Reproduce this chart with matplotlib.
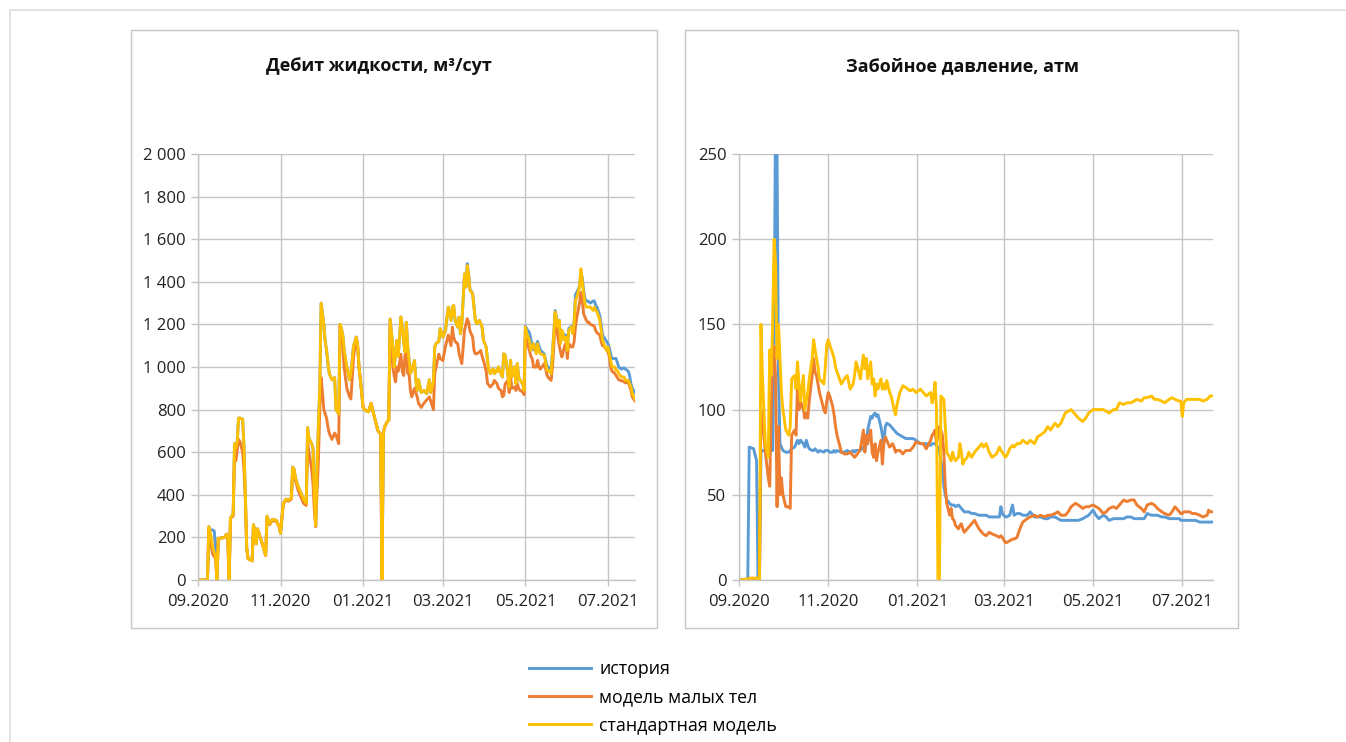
import matplotlib
matplotlib.use("Agg")
import matplotlib.pyplot as plt
import matplotlib.dates as mdates
from matplotlib.lines import Line2D
from matplotlib.patches import Rectangle
from matplotlib.ticker import FuncFormatter
import pandas as pd

plt.rcParams['font.family'] = ['Open Sans', 'DejaVu Sans']

START = "2020-09-01"

# ---------------- Liquid rate (m3/day) ----------------
liq_days = [0, 7, 8, 9, 10, 11, 12, 13, 14, 15, 20, 21, 22, 23, 24, 26, 27, 28, 29, 30,
            31, 33, 34, 35, 36, 37, 40, 41, 42, 43, 44, 46, 48, 50, 51, 53, 55, 58, 60, 61,
            63, 65, 67, 69, 70, 71, 72, 74, 76, 78, 80, 81, 82, 84, 85, 86, 87, 88, 89, 90,
            91, 92, 93, 94, 95, 96, 97, 99, 101, 102, 104, 105, 106, 107, 108, 110, 112, 113, 115, 117,
            118, 119, 121, 122, 124, 126, 128, 129, 131, 133, 135, 136, 137, 138, 140, 141, 142, 143, 144, 145,
            146, 147, 148, 150, 151, 152, 153, 154, 155, 156, 157, 158, 160, 161, 162, 163, 165, 167, 169, 171,
            172, 174, 175, 176, 178, 179, 181, 183, 184, 185, 187, 188, 189, 190, 192, 193, 194, 195, 197, 198,
            199, 200, 201, 203, 204, 205, 206, 208, 209, 210, 211, 213, 214, 215, 216, 218, 219, 220, 221, 222,
            224, 225, 226, 227, 229, 230, 231, 232, 234, 235, 236, 237, 238, 240, 241, 242, 243, 245, 246, 247,
            248, 250, 251, 252, 253, 256, 257, 258, 259, 261, 262, 263, 264, 266, 267, 268, 269, 271, 272, 273,
            274, 276, 277, 278, 279, 280, 282, 283, 284, 285, 286, 287, 288, 289, 290, 292, 293, 294, 295, 297,
            298, 299, 300, 302, 303, 304, 305, 306, 308, 309, 310, 311, 313, 314, 315, 316, 318, 319, 320, 321,
            323]
liq_history = [0, 0, 250, 235, 235, 235, 230, 150, 0, 195, 200, 215, 200, 0, 290, 310, 640, 620, 650, 760,
               760, 755, 620, 400, 150, 100, 90, 260, 230, 170, 240, 200, 160, 115, 300, 265, 285, 280, 250, 220,
               360, 380, 375, 385, 530, 520, 480, 440, 410, 380, 360, 715, 665, 640, 620, 400, 255, 550, 720, 900,
               1300, 1250, 1200, 1120, 1080, 1020, 970, 940, 950, 800, 780, 1200, 1180, 1150, 1080, 1000, 940, 970, 1100, 1140,
               1100, 1000, 880, 810, 795, 790, 830, 800, 750, 700, 685, 0, 690, 720, 745, 750, 1225, 1160, 1095, 1000,
               1060, 1125, 1050, 1235, 1190, 1120, 1070, 1210, 1095, 1030, 970, 985, 1030, 940, 890, 940, 880, 890, 875, 940,
               880, 930, 1095, 1110, 1120, 1180, 1140, 1172, 1234, 1281, 1219, 1281, 1289, 1219, 1187, 1234, 1156, 1203, 1437, 1375,
               1485, 1437, 1365, 1344, 1281, 1219, 1203, 1219, 1203, 1187, 1125, 1094, 1031, 984, 969, 992, 969, 984, 977, 1000,
               969, 953, 1062, 1055, 969, 906, 1031, 953, 1000, 922, 1016, 953, 937, 922, 890, 1190, 1180, 1160, 1130, 1100,
               1080, 1100, 1120, 1100, 1080, 1060, 1030, 1000, 1000, 990, 1070, 1160, 1265, 1200, 1220, 1120, 1170, 1140, 1150, 1090,
               1180, 1190, 1160, 1210, 1340, 1350, 1380, 1445, 1420, 1360, 1320, 1310, 1310, 1305, 1300, 1310, 1310, 1290, 1280, 1240,
               1200, 1150, 1140, 1120, 1110, 1090, 1060, 1040, 1040, 1040, 1020, 1000, 990, 995, 995, 990, 980, 960, 920, 900,
               880]
liq_small = [0, 0, 240, 190, 150, 120, 110, 100, 0, 195, 200, 215, 200, 0, 290, 300, 590, 560, 610, 660,
             650, 600, 520, 380, 150, 100, 90, 255, 230, 170, 240, 200, 160, 115, 290, 260, 280, 275, 250, 220,
             355, 375, 370, 380, 520, 510, 470, 420, 390, 360, 350, 650, 600, 520, 450, 330, 250, 420, 560, 800,
             950, 880, 800, 780, 760, 720, 690, 660, 690, 680, 640, 1190, 1150, 1100, 1000, 900, 860, 850, 1050, 1140,
             1100, 1000, 880, 810, 795, 790, 830, 800, 750, 700, 685, 0, 690, 720, 745, 750, 1200, 1100, 1000, 960,
             930, 1000, 980, 1060, 980, 960, 1050, 1100, 970, 970, 890, 860, 900, 880, 860, 830, 810, 830, 845, 860,
             840, 800, 970, 1000, 1060, 1040, 1030, 1100, 1125, 1150, 1100, 1187, 1140, 1120, 1109, 1060, 1040, 1016, 1172, 1200,
             1227, 1210, 1170, 1140, 1078, 1062, 1062, 1070, 1078, 1050, 1031, 980, 922, 915, 906, 920, 937, 930, 922, 900,
             890, 860, 867, 920, 937, 880, 953, 900, 906, 890, 922, 900, 890, 883, 870, 1172, 1120, 1078, 1050, 1040,
             1000, 1000, 1031, 1000, 990, 1016, 990, 960, 950, 937, 1000, 1100, 1250, 1140, 1100, 1070, 1047, 1100, 1110, 1040,
             1110, 1094, 1094, 1120, 1190, 1234, 1300, 1350, 1320, 1250, 1234, 1220, 1210, 1210, 1200, 1195, 1190, 1170, 1160, 1150,
             1120, 1100, 1100, 1080, 1070, 1050, 1000, 980, 970, 960, 950, 940, 935, 935, 930, 925, 930, 910, 890, 860,
             840]
liq_standard = [0, 0, 250, 225, 190, 150, 130, 110, 0, 195, 200, 215, 200, 0, 290, 310, 640, 620, 650, 760,
                760, 755, 620, 400, 150, 100, 90, 260, 230, 170, 240, 200, 160, 115, 300, 265, 285, 280, 250, 220,
                360, 380, 375, 385, 530, 520, 480, 440, 410, 380, 360, 715, 665, 640, 620, 400, 255, 550, 720, 900,
                1300, 1250, 1200, 1120, 1080, 1020, 970, 940, 950, 800, 780, 1200, 1180, 1150, 1080, 1000, 940, 970, 1100, 1140,
                1100, 1000, 880, 810, 795, 790, 830, 800, 750, 700, 685, 0, 690, 720, 745, 750, 1225, 1160, 1095, 1000,
                1060, 1125, 1050, 1235, 1190, 1120, 1070, 1210, 1095, 1030, 970, 985, 1030, 940, 890, 940, 880, 890, 875, 940,
                880, 930, 1095, 1110, 1120, 1180, 1140, 1172, 1234, 1281, 1219, 1281, 1289, 1219, 1187, 1234, 1156, 1203, 1437, 1375,
                1476, 1437, 1359, 1344, 1281, 1219, 1203, 1219, 1203, 1187, 1125, 1094, 1031, 984, 969, 992, 969, 984, 977, 1000,
                969, 953, 1062, 1055, 969, 906, 1031, 953, 1000, 922, 1016, 953, 937, 922, 890, 1187, 1156, 1125, 1078, 1094,
                1109, 1062, 1109, 1078, 1062, 1055, 1016, 984, 984, 969, 1062, 1156, 1258, 1187, 1219, 1109, 1172, 1125, 1140, 1078,
                1172, 1187, 1156, 1203, 1312, 1328, 1375, 1461, 1406, 1344, 1297, 1281, 1281, 1281, 1281, 1266, 1281, 1266, 1258, 1219,
                1172, 1125, 1109, 1078, 1094, 1062, 1031, 1000, 1000, 984, 984, 969, 953, 953, 953, 937, 937, 922, 906, 875,
                850]

# ---------------- Bottomhole pressure (atm) ----------------
bhp_days = [0, 6, 7, 10, 12, 13, 14, 15, 16, 17, 18, 20, 21, 22, 23, 24, 25, 26, 27, 28,
            29, 30, 32, 34, 35, 36, 38, 39, 40, 41, 42, 44, 45, 46, 47, 48, 50, 51, 52, 53,
            54, 55, 58, 59, 60, 61, 62, 64, 65, 66, 67, 70, 72, 74, 76, 78, 79, 80, 81, 83,
            85, 86, 87, 88, 90, 91, 92, 93, 94, 95, 97, 98, 99, 100, 101, 103, 104, 105, 106, 107,
            108, 110, 112, 114, 117, 119, 121, 124, 126, 128, 131, 132, 133, 134, 135, 136, 137, 138, 139, 140,
            141, 142, 144, 145, 146, 147, 148, 150, 151, 152, 153, 154, 156, 157, 159, 161, 164, 166, 167, 169,
            171, 173, 176, 178, 179, 180, 182, 183, 185, 187, 188, 190, 192, 194, 197, 199, 202, 204, 206, 209,
            211, 213, 216, 218, 220, 223, 225, 227, 230, 232, 235, 237, 239, 242, 244, 246, 249, 251, 253, 256,
            258, 260, 263, 265, 268, 270, 272, 275, 277, 279, 282, 284, 286, 289, 291, 294, 296, 298, 301, 302,
            303, 304, 306, 308, 310, 312, 315, 317, 320, 321, 322, 324]
bhp_history = [0, 0, 78, 77, 70, 0, 0, 75, 76, 76, 76, 75, 76, 76, 76, 140, 280, 250, 120, 80,
               78, 76, 75, 75, 76, 77, 78, 80, 82, 80, 82, 80, 78, 82, 79, 77, 76, 76, 77, 76,
               75, 76, 75, 76, 76, 76, 75, 75, 76, 75, 76, 75, 75, 76, 75, 76, 75, 76, 76, 76,
               78, 76, 80, 88, 96, 95, 97, 98, 96, 97, 90, 85, 80, 90, 92, 91, 90, 89, 88, 87,
               86, 85, 84, 83, 83, 83, 82, 80, 80, 80, 79, 80, 80, 80, 79, 78, 76, 70, 65, 55,
               50, 47, 45, 44, 44, 44, 43, 44, 43, 42, 41, 40, 40, 40, 39, 39, 38, 38, 38, 38,
               37, 37, 37, 37, 43, 39, 37, 37, 38, 44, 38, 39, 39, 38, 38, 40, 37, 37, 37, 36,
               36, 37, 37, 36, 35, 35, 35, 35, 35, 35, 36, 37, 38, 41, 38, 36, 38, 37, 35, 36,
               36, 36, 36, 37, 37, 36, 36, 36, 36, 39, 38, 38, 38, 37, 37, 36, 36, 36, 36, 35,
               35, 35, 35, 35, 35, 35, 34, 34, 34, 34, 34, 34]
bhp_small = [0, 0.5, 1, 1, 1, 1, 0, 100, 95, 85, 75, 60, 55, 100, 130, 137, 120, 43, 90, 50,
             60, 50, 43, 43, 42, 85, 88, 85, 115, 100, 105, 100, 95, 98, 95, 105, 120, 130, 122, 120,
             115, 110, 100, 98, 105, 110, 108, 102, 97, 90, 85, 75, 74, 74, 75, 73, 72, 73, 74, 77,
             88, 75, 85, 80, 88, 75, 72, 80, 70, 75, 82, 68, 80, 84, 82, 78, 79, 80, 78, 75,
             76, 76, 74, 76, 76, 78, 81, 80, 80, 77, 82, 85, 86, 88, 80, 85, 90, 88, 85, 75,
             55, 45, 38, 42, 36, 35, 32, 30, 32, 33, 30, 28, 30, 31, 33, 35, 30, 28, 27, 26,
             28, 27, 26, 25, 26, 25, 22, 22, 23, 24, 24, 25, 30, 34, 36, 37, 38, 37, 38, 37,
             38, 38, 39, 40, 38, 38, 40, 43, 45, 44, 42, 43, 43, 44, 43, 42, 39, 40, 42, 43,
             42, 44, 47, 46, 47, 47, 44, 42, 40, 44, 45, 44, 42, 40, 39, 38, 40, 43, 40, 39,
             39, 40, 40, 40, 39, 39, 38, 37, 38, 41, 40, 40]
bhp_standard = [0, 0.5, 1, 1, 1, 1, 0, 150, 120, 100, 80, 72, 135, 120, 150, 200, 185, 130, 150, 130,
                110, 100, 88, 85, 90, 118, 120, 112, 128, 115, 105, 120, 100, 105, 110, 118, 130, 141, 135, 130,
                125, 118, 115, 125, 138, 141, 138, 133, 130, 125, 122, 115, 118, 120, 112, 115, 120, 128, 125, 118,
                132, 124, 130, 118, 128, 115, 118, 108, 115, 112, 118, 112, 115, 112, 117, 110, 108, 104, 100, 97,
                103, 110, 114, 113, 111, 112, 110, 112, 110, 108, 110, 104, 108, 116, 100, 0, 0, 108, 107, 106,
                90, 75, 72, 70, 75, 72, 70, 72, 80, 75, 68, 70, 72, 75, 72, 75, 78, 80, 78, 80,
                75, 72, 74, 78, 76, 75, 72, 73, 77, 79, 78, 80, 80, 82, 80, 82, 80, 84, 85, 87,
                90, 88, 92, 90, 92, 98, 99, 100, 97, 95, 93, 95, 98, 100, 100, 100, 100, 99, 98, 100,
                100, 104, 103, 104, 104, 105, 106, 105, 107, 107, 108, 106, 106, 105, 104, 106, 107, 106, 105, 105,
                96, 104, 106, 106, 106, 106, 106, 105, 106, 107, 108, 108]

x_tick_months = [1, 3, 5, 7, 9, 11]
liq_yticks = [0, 200, 400, 600, 800, 1000, 1200, 1400, 1600, 1800, 2000]
bhp_yticks = [0, 50, 100, 150, 200, 250]
series_names = ["история", "модель малых тел", "стандартная модель"]
series_colors = ["#5B9BD5", "#ED7D31", "#FFC000"]
titles = ["Дебит жидкости, м³/сут", "Забойное давление, атм"]


def to_dates(days):
    return pd.Timestamp(START) + pd.to_timedelta(days, unit="D")


W, H = 1346, 742
fig = plt.figure(figsize=(W / 100, H / 100), dpi=100)


def fx(px):
    return px / W


def fy(py):
    return 1 - py / H


# outer frame lines
fig.add_artist(Line2D([fx(10), 1.0], [fy(10), fy(10)], color="#dedede", lw=1.2))
fig.add_artist(Line2D([fx(10), fx(10)], [fy(10), 0.0], color="#dedede", lw=1.2))

# panel boxes
for (x0, x1) in [(131, 657), (685, 1238)]:
    fig.add_artist(Rectangle((fx(x0), fy(628)), fx(x1 - x0), (628 - 30) / H,
                             fill=False, edgecolor="#c6c6c6", lw=1.0))

ax1 = fig.add_axes([fx(198), fy(580), fx(635 - 198), (580 - 154) / H])
ax2 = fig.add_axes([fx(739), fy(580), fx(1213 - 739), (580 - 154) / H])

grid_c = "#c4c4c4"


def style(ax, yticks, fmt):
    ax.set_axisbelow(True)
    for s in ["top", "right"]:
        ax.spines[s].set_visible(False)
    for s in ["left", "bottom"]:
        ax.spines[s].set_color(grid_c)
        ax.spines[s].set_linewidth(1.0)
    ax.grid(True, color=grid_c, lw=1.0)
    ax.set_yticks(yticks)
    ax.set_ylim(yticks[0], yticks[-1])
    ax.yaxis.set_major_formatter(FuncFormatter(fmt))
    ax.xaxis.set_major_locator(mdates.MonthLocator(bymonth=x_tick_months))
    ax.xaxis.set_major_formatter(mdates.DateFormatter("%m.%Y"))
    ax.tick_params(axis="y", length=5, width=1, color=grid_c, pad=4, labelsize=12, labelcolor="#222222")
    ax.tick_params(axis="x", length=4, width=1, color=grid_c, pad=6, labelsize=12, labelcolor="#222222")


liq_d = to_dates(liq_days)
bhp_d = to_dates(bhp_days)

for vals, c in zip([liq_history, liq_small, liq_standard], series_colors):
    ax1.plot(liq_d, vals, color=c, lw=2.1, solid_joinstyle="round")
for vals, c in zip([bhp_history, bhp_small, bhp_standard], series_colors):
    ax2.plot(bhp_d, vals, color=c, lw=2.1, solid_joinstyle="round")

style(ax1, liq_yticks, lambda v, p: f"{v:,.0f}".replace(",", " "))
style(ax2, bhp_yticks, lambda v, p: f"{v:.0f}")
ax1.set_xlim(liq_d[0], liq_d[-1])
ax2.set_xlim(bhp_d[0], bhp_d[-1])

fig.text(fx(379), fy(66), titles[0], ha="center", va="center", fontsize=13, fontweight="bold", color="#111111")
fig.text(fx(962), fy(66), titles[1], ha="center", va="center", fontsize=13, fontweight="bold", color="#111111")

handles = [Line2D([0], [0], color=c, lw=2.1) for c in series_colors]
fig.legend(handles, series_names, loc="upper left", bbox_to_anchor=(fx(529), fy(660)),
           frameon=False, fontsize=12.8, handlelength=3.5, handletextpad=0.45,
           labelspacing=0.58, borderpad=0, borderaxespad=0)

fig.savefig("out.png", dpi=100)
